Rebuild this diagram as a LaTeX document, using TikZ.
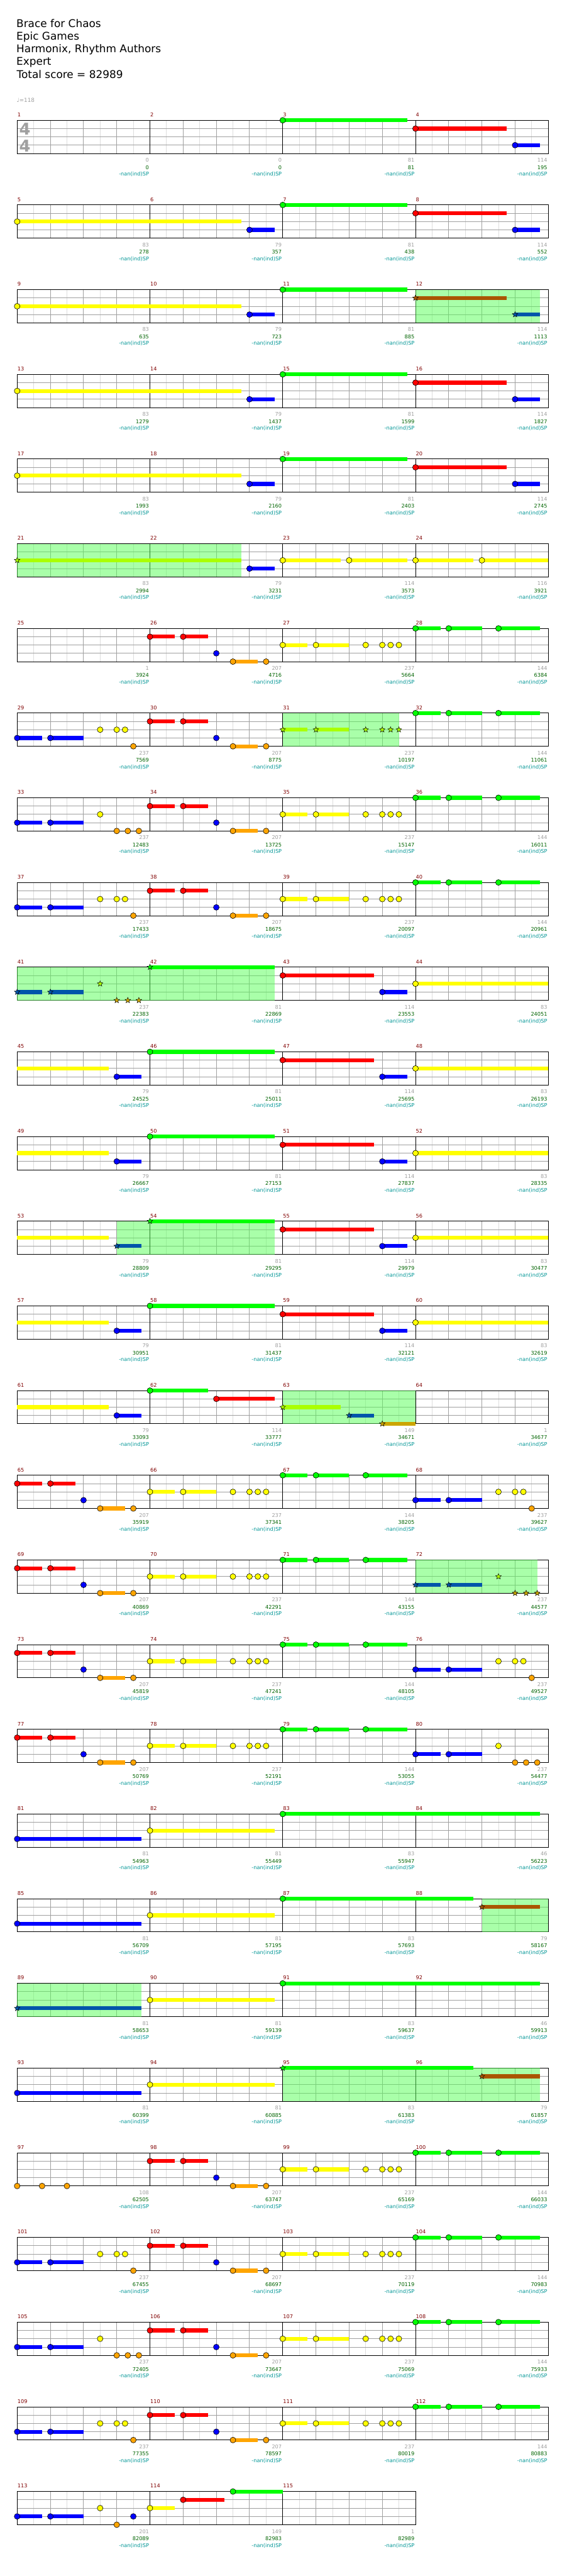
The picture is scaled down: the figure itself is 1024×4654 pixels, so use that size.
\documentclass[tikz,border=0pt]{standalone}
\usepackage{fontspec}
\setmainfont{DejaVu Sans}
\usetikzlibrary{shapes.geometric}
\pgfdeclarelayer{bgl}\pgfdeclarelayer{grid}\pgfdeclarelayer{zone}\pgfdeclarelayer{sus}
\pgfsetlayers{bgl,grid,zone,sus,main}
\definecolor{ln0}{RGB}{0,255,0}
\definecolor{ln1}{RGB}{255,0,0}
\definecolor{ln2}{RGB}{255,255,0}
\definecolor{ln3}{RGB}{0,0,255}
\definecolor{ln4}{RGB}{255,165,0}
\definecolor{sp0}{RGB}{0,255,0}
\definecolor{sp1}{RGB}{170,85,0}
\definecolor{sp2}{RGB}{170,255,0}
\definecolor{sp3}{RGB}{0,85,170}
\definecolor{sp4}{RGB}{204,165,0}
\definecolor{halfc}{RGB}{221,221,221}
\definecolor{beatc}{RGB}{160,160,160}
\definecolor{mnumc}{RGB}{128,0,0}
\definecolor{grayc}{RGB}{160,160,160}
\definecolor{scorec}{RGB}{0,100,0}
\definecolor{spc}{RGB}{0,150,150}
\definecolor{zonec}{RGB}{85,255,85}
\tikzset{
 halfl/.style={halfc, line width=0.75pt},
 beatl/.style={beatc, line width=0.75pt},
 barl/.style={black, line width=0.75pt},
 susl/.style={line width=5.25pt},
 notec/.style={circle, draw=black, line width=0.5pt, minimum size=7.8pt, inner sep=0pt},
 starn/.style={star, star points=5, star point ratio=2.3, draw=black, line width=0.4pt, minimum size=8pt, inner sep=0pt},
 zonef/.style={fill=zonec, fill opacity=0.5},
 small/.style={font=\fontsize{7}{8}\selectfont, inner sep=0pt},
 mnum/.style={small, text=mnumc, anchor=base west},
 glab/.style={small, text=grayc, anchor=base east},
 slab/.style={small, text=scorec, anchor=base east},
 clab/.style={small, text=spc, anchor=base east},
 head/.style={font=\fontsize{14.4}{16}\selectfont, anchor=base west, inner sep=0pt},
 tsig/.style={font=\fontsize{22}{24}\selectfont\bfseries, text=grayc, anchor=base west, inner sep=0pt},
}
\newcommand\gridrow[1]{%
 \pgfmathtruncatemacro\nbt{4*#1}%
 \begin{pgfonlayer}{grid}
 \foreach \k in {1,...,\nbt}{\draw[halfl] ({1+60*\k},0) -- ({1+60*\k},60);}
 \foreach \k in {1,...,\nbt}{\draw[beatl] ({31+60*\k},0) -- ({31+60*\k},60);}
 \foreach \yy in {15,30,45}{\draw[beatl] (31,\yy) -- ({31+240*#1},\yy);}
 \foreach \m in {1,...,#1}{\draw[barl] ({31+240*\m},0) -- ({31+240*\m},60);}
 \draw[barl] (31,0) rectangle ({31+240*#1},60);
 \end{pgfonlayer}}
\newcommand\mlab[4]{%
 \node[mnum] at ({31+240*#1+0.5},-6.5) {#2};
 \node[glab] at ({31+240*(#1+1)-1.5},75.4) {#3};
 \node[slab] at ({31+240*(#1+1)-1.5},88.4) {#4};
 \node[clab] at ({31+240*(#1+1)-1.5},100.4) {-nan(ind)SP};}
\newcommand\labs[9]{\mlab{0}{#1}{#2}{#3}\mlab{1}{\the\numexpr#1+1\relax}{#4}{#5}%
 \mlab{2}{\the\numexpr#1+2\relax}{#6}{#7}\mlab{3}{\the\numexpr#1+3\relax}{#8}{#9}}
\newcommand\nA[2]{\node[notec, fill=ln#1] at ({31+60*(#2)},{15*(#1)}) {};}
\newcommand\nS[3]{\begin{pgfonlayer}{sus}\draw[susl, ln#1] ({31+60*(#2)},{15*(#1)}) -- ({31+60*(#3)},{15*(#1)});\end{pgfonlayer}}
\newcommand\nB[3]{\nS{#1}{#2}{#3}\nA{#1}{#2}}
\newcommand\nC[2]{\node[starn, fill=sp#1] at ({31+60*(#2)},{15*(#1)}) {};}
\newcommand\nT[3]{\begin{pgfonlayer}{sus}\draw[susl, sp#1] ({31+60*(#2)},{15*(#1)}) -- ({31+60*(#3)},{15*(#1)});\end{pgfonlayer}}
\newcommand\nD[3]{\nT{#1}{#2}{#3}\nC{#1}{#2}}
\newcommand\nZ[2]{\begin{pgfonlayer}{zone}\fill[zonef] ({31+60*(#1)},0) rectangle ({31+60*(#2)},60);\end{pgfonlayer}}
\newcommand\pRed[1]{\nB{1}{#1}{#1+.75}\nB{1}{#1+1}{#1+1.75}\nA{3}{#1+2}\nB{4}{#1+2.5}{#1+3.25}\nA{4}{#1+3.5}}
\newcommand\pYel[1]{\nB{2}{#1}{#1+.75}\nB{2}{#1+1}{#1+2}\nA{2}{#1+2.5}\nA{2}{#1+3}\nA{2}{#1+3.25}\nA{2}{#1+3.5}}
\newcommand\pYelSP[1]{\nD{2}{#1}{#1+.75}\nD{2}{#1+1}{#1+2}\nC{2}{#1+2.5}\nC{2}{#1+3}\nC{2}{#1+3.25}\nC{2}{#1+3.5}}
\newcommand\pGrn[1]{\nB{0}{#1}{#1+.75}\nB{0}{#1+1}{#1+2}\nB{0}{#1+2.5}{#1+3.75}}
\newcommand\pBlu[1]{\nB{3}{#1}{#1+.75}\nB{3}{#1+1}{#1+2}}
\newcommand\pBluA[1]{\pBlu{#1}\nA{2}{#1+2.5}\nA{2}{#1+3}\nA{2}{#1+3.25}\nA{4}{#1+3.5}}
\newcommand\pBluB[1]{\pBlu{#1}\nA{2}{#1+2.5}\nA{4}{#1+3}\nA{4}{#1+3+1/3}\nA{4}{#1+3+2/3}}
\newcommand\pStd{\pRed{4}\pYel{8}\pGrn{12}}
\newcommand\pIntro{\nB{2}{0}{6.75}\nB{3}{7}{7.75}\nB{0}{8}{11.75}}
\newcommand\pMid{\nB{1}{8}{10.75}\nB{3}{11}{11.75}\nB{2}{12}{16}}
\newcommand\pLong{\nB{3}{0}{3.75}\nB{2}{4}{7.75}}
\begin{document}
\begin{tikzpicture}[x=0.75pt,y=-0.75pt]
\useasboundingbox (0,0) rectangle (1024,4654);
\begin{pgfonlayer}{bgl}
\fill[white] (0,0) rectangle (1024,4654);
\end{pgfonlayer}
\node[head] (t1) at (29.5,49) {Brace for Chaos};
\node[head] (t2) at (29.5,72) {Epic Games};
\node[head] (t3) at (29.5,95) {Harmonix, Rhythm Authors};
\node[head] (t4) at (29.5,118) {Expert};
\node[head] (t5) at (30,141.7) {Total score = 82989};
\node[font=\fontsize{7.5}{9}\selectfont, text=grayc, anchor=base west, inner sep=0pt] (tempo) at (30,184.3) {♩=118};
% row 0
\begin{scope}[shift={(0,217.3)}]
\gridrow{4}
\node[tsig] (ts1) at (34.5,26.7) {4};
\node[tsig] (ts2) at (34.5,57) {4};
\labs{1}{0}{0}{0}{0}{81}{81}{114}{195}
\nB{0}{8}{11.75}\nB{1}{12}{14.75}\nB{3}{15}{15.75}
\end{scope}
% row 1
\begin{scope}[shift={(0,370.3)}]
\gridrow{4}
\labs{5}{83}{278}{79}{357}{81}{438}{114}{552}
\pIntro\nB{1}{12}{14.75}\nB{3}{15}{15.75}
\end{scope}
% row 2
\begin{scope}[shift={(0,523.3)}]
\gridrow{4}
\labs{9}{83}{635}{79}{723}{81}{885}{114}{1113}
\pIntro\nZ{12}{15.75}\nD{1}{12}{14.75}\nD{3}{15}{15.75}
\end{scope}
% row 3
\begin{scope}[shift={(0,676.3)}]
\gridrow{4}
\labs{13}{83}{1279}{79}{1437}{81}{1599}{114}{1827}
\pIntro\nB{1}{12}{14.75}\nB{3}{15}{15.75}
\end{scope}
% row 4
\begin{scope}[shift={(0,829.3)}]
\gridrow{4}
\labs{17}{83}{1993}{79}{2160}{81}{2403}{114}{2745}
\pIntro\nB{1}{12}{14.75}\nB{3}{15}{15.75}
\end{scope}
% row 5
\begin{scope}[shift={(0,982.3)}]
\gridrow{4}
\labs{21}{83}{2994}{79}{3231}{114}{3573}{116}{3921}
\nZ{0}{6.75}\nD{2}{0}{6.75}\nB{3}{7}{7.75}\nB{2}{8}{9.75}\nB{2}{10}{11.75}\nB{2}{12}{13.75}\nB{2}{14}{16}
\end{scope}
% row 6
\begin{scope}[shift={(0,1135.3)}]
\gridrow{4}
\labs{25}{1}{3924}{207}{4716}{237}{5664}{144}{6384}
\pStd
\end{scope}
% row 7
\begin{scope}[shift={(0,1288.3)}]
\gridrow{4}
\labs{29}{237}{7569}{207}{8775}{237}{10197}{144}{11061}
\pBluA{0}\pRed{4}\nZ{8}{11.5}\pYelSP{8}\pGrn{12}
\end{scope}
% row 8
\begin{scope}[shift={(0,1441.3)}]
\gridrow{4}
\labs{33}{237}{12483}{207}{13725}{237}{15147}{144}{16011}
\pBluB{0}\pStd
\end{scope}
% row 9
\begin{scope}[shift={(0,1594.3)}]
\gridrow{4}
\labs{37}{237}{17433}{207}{18675}{237}{20097}{144}{20961}
\pBluA{0}\pStd
\end{scope}
% row 10
\begin{scope}[shift={(0,1747.3)}]
\gridrow{4}
\labs{41}{237}{22383}{81}{22869}{114}{23553}{83}{24051}
\nZ{0}{7.75}\nD{3}{0}{.75}\nD{3}{1}{2}\nC{2}{2.5}\nC{4}{3}\nC{4}{3+1/3}\nC{4}{3+2/3}\nD{0}{4}{7.75}\pMid
\end{scope}
% row 11
\begin{scope}[shift={(0,1900.3)}]
\gridrow{4}
\labs{45}{79}{24525}{81}{25011}{114}{25695}{83}{26193}
\nS{2}{0}{2.75}\nB{3}{3}{3.75}\nB{0}{4}{7.75}\pMid
\end{scope}
% row 12
\begin{scope}[shift={(0,2053.3)}]
\gridrow{4}
\labs{49}{79}{26667}{81}{27153}{114}{27837}{83}{28335}
\nS{2}{0}{2.75}\nB{3}{3}{3.75}\nB{0}{4}{7.75}\pMid
\end{scope}
% row 13
\begin{scope}[shift={(0,2206.3)}]
\gridrow{4}
\labs{53}{79}{28809}{81}{29295}{114}{29979}{83}{30477}
\nS{2}{0}{2.75}\nZ{3}{7.75}\nD{3}{3}{3.75}\nD{0}{4}{7.75}\pMid
\end{scope}
% row 14
\begin{scope}[shift={(0,2359.3)}]
\gridrow{4}
\labs{57}{79}{30951}{81}{31437}{114}{32121}{83}{32619}
\nS{2}{0}{2.75}\nB{3}{3}{3.75}\nB{0}{4}{7.75}\pMid
\end{scope}
% row 15
\begin{scope}[shift={(0,2512.3)}]
\gridrow{4}
\labs{61}{79}{33093}{114}{33777}{149}{34671}{1}{34677}
\nS{2}{0}{2.75}\nB{3}{3}{3.75}\nB{0}{4}{5.75}\nB{1}{6}{7.75}\nZ{8}{12}\nD{2}{8}{9.75}\nD{3}{10}{10.75}\nD{4}{11}{12}
\end{scope}
% row 16
\begin{scope}[shift={(0,2665.3)}]
\gridrow{4}
\labs{65}{207}{35919}{237}{37341}{144}{38205}{237}{39627}
\pRed{0}\pYel{4}\pGrn{8}\pBluA{12}
\end{scope}
% row 17
\begin{scope}[shift={(0,2818.3)}]
\gridrow{4}
\labs{69}{207}{40869}{237}{42291}{144}{43155}{237}{44577}
\pRed{0}\pYel{4}\pGrn{8}\nZ{12}{15+2/3}\nD{3}{12}{12.75}\nD{3}{13}{14}\nC{2}{14.5}\nC{4}{15}\nC{4}{15+1/3}\nC{4}{15+2/3}
\end{scope}
% row 18
\begin{scope}[shift={(0,2971.3)}]
\gridrow{4}
\labs{73}{207}{45819}{237}{47241}{144}{48105}{237}{49527}
\pRed{0}\pYel{4}\pGrn{8}\pBluA{12}
\end{scope}
% row 19
\begin{scope}[shift={(0,3124.3)}]
\gridrow{4}
\labs{77}{207}{50769}{237}{52191}{144}{53055}{237}{54477}
\pRed{0}\pYel{4}\pGrn{8}\pBluB{12}
\end{scope}
% row 20
\begin{scope}[shift={(0,3277.3)}]
\gridrow{4}
\labs{81}{81}{54963}{81}{55449}{83}{55947}{46}{56223}
\pLong\nB{0}{8}{15.75}
\end{scope}
% row 21
\begin{scope}[shift={(0,3430.3)}]
\gridrow{4}
\labs{85}{81}{56709}{81}{57195}{83}{57693}{79}{58167}
\pLong\nB{0}{8}{13.75}\nZ{14}{16}\nD{1}{14}{15.75}
\end{scope}
% row 22
\begin{scope}[shift={(0,3583.3)}]
\gridrow{4}
\labs{89}{81}{58653}{81}{59139}{83}{59637}{46}{59913}
\nZ{0}{3.75}\nD{3}{0}{3.75}\nB{2}{4}{7.75}\nB{0}{8}{15.75}
\end{scope}
% row 23
\begin{scope}[shift={(0,3736.3)}]
\gridrow{4}
\labs{93}{81}{60399}{81}{60885}{83}{61383}{79}{61857}
\pLong\nZ{8}{15.75}\nD{0}{8}{13.75}\nD{1}{14}{15.75}
\end{scope}
% row 24
\begin{scope}[shift={(0,3889.3)}]
\gridrow{4}
\labs{97}{108}{62505}{207}{63747}{237}{65169}{144}{66033}
\nA{4}{0}\nA{4}{.75}\nA{4}{1.5}\pStd
\end{scope}
% row 25
\begin{scope}[shift={(0,4042.3)}]
\gridrow{4}
\labs{101}{237}{67455}{207}{68697}{237}{70119}{144}{70983}
\pBluA{0}\pStd
\end{scope}
% row 26
\begin{scope}[shift={(0,4195.3)}]
\gridrow{4}
\labs{105}{237}{72405}{207}{73647}{237}{75069}{144}{75933}
\pBluB{0}\pStd
\end{scope}
% row 27
\begin{scope}[shift={(0,4348.3)}]
\gridrow{4}
\labs{109}{237}{77355}{207}{78597}{237}{80019}{144}{80883}
\pBluA{0}\pStd
\end{scope}
% row 28
\begin{scope}[shift={(0,4501.3)}]
\gridrow{3}
\mlab{0}{113}{201}{82089}\mlab{1}{114}{149}{82983}\mlab{2}{115}{1}{82989}
\pBlu{0}\nA{2}{2.5}\nA{4}{3}\nA{3}{3.5}\nB{2}{4}{4.75}\nB{1}{5}{6.25}\nB{0}{6.5}{8}
\end{scope}
\end{tikzpicture}
\end{document}
